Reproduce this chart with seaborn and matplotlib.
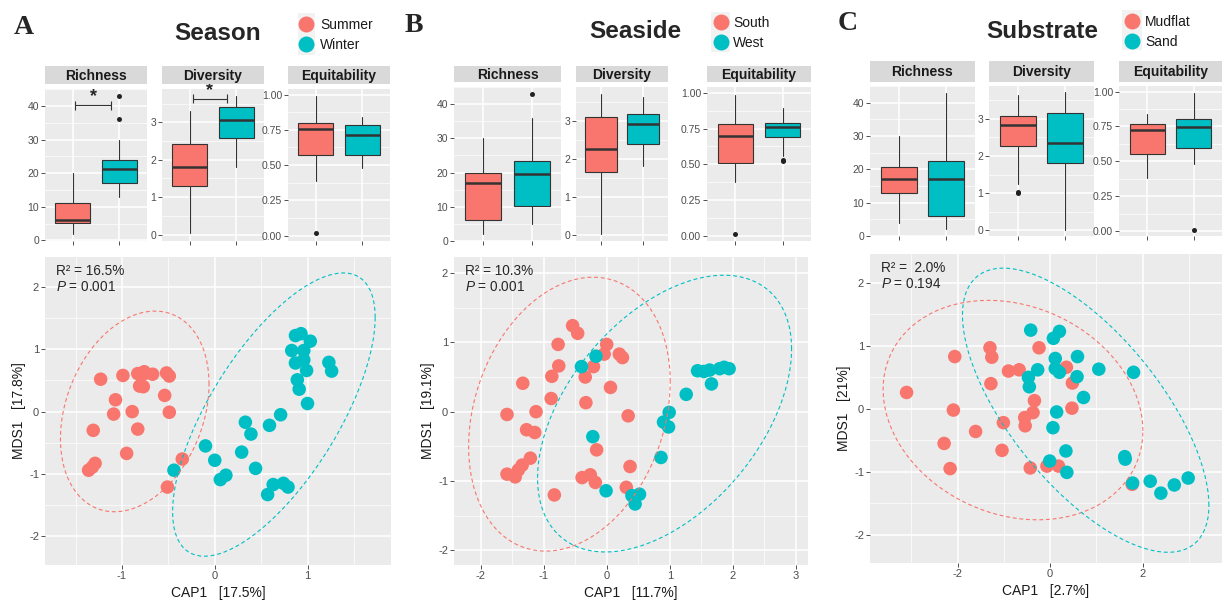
import numpy as np
import pandas as pd
import seaborn as sns
import matplotlib.pyplot as plt
from matplotlib.lines import Line2D
from matplotlib.patches import Rectangle
from matplotlib.ticker import MultipleLocator, AutoMinorLocator, FormatStrFormatter

RED = '#F8766D'
TEAL = '#00BFC4'

# box summaries: [lower whisker, Q1, median, Q3, upper whisker]
season_groups = ['Summer', 'Winter']
season_richness = [[2, 5.2, 6, 11.2, 20], [13, 17.2, 21.2, 23.9, 30]]
season_richness_out = [[], [36, 43]]
season_diversity = [[0.03, 1.30, 1.81, 2.41, 3.30], [1.81, 2.58, 3.06, 3.40, 3.71]]
season_diversity_out = [[], []]
season_equit = [[0.39, 0.574, 0.754, 0.797, 0.99], [0.48, 0.574, 0.714, 0.783, 0.844]]
season_equit_out = [[0.017], []]

seaside_groups = ['South', 'West']
seaside_richness = [[2, 6, 17, 20, 30], [5, 10.1, 19.6, 23.3, 36]]
seaside_richness_out = [[], [43]]
seaside_diversity = [[0.03, 1.65, 2.27, 3.11, 3.70], [1.82, 2.39, 2.93, 3.18, 3.63]]
seaside_diversity_out = [[], []]
seaside_equit = [[0.38, 0.509, 0.70, 0.782, 0.984], [0.56, 0.69, 0.76, 0.787, 0.89]]
seaside_equit_out = [[0.012], [0.52, 0.53]]

substrate_groups = ['Mudflat', 'Sand']
substrate_richness = [[4, 13, 17, 20.8, 30], [2, 6, 17, 22.4, 43]]
substrate_richness_out = [[], []]
substrate_diversity = [[1.24, 2.28, 2.85, 3.07, 3.64], [0.0, 1.82, 2.35, 3.17, 3.72]]
substrate_diversity_out = [[1.01, 1.04], []]
substrate_equit = [[0.38, 0.55, 0.725, 0.77, 0.84], [0.483, 0.593, 0.749, 0.80, 0.99]]
substrate_equit_out = [[], [0.005]]

# ordination scores
summer_cap = [-1.23, -0.99, -0.83, -0.76, -0.77, -0.67, -0.52, -0.49, -0.81, -0.77, -0.54, -1.07,
              -1.09, -0.89, -0.49, -1.31, -0.83, -0.95, -0.35, -1.29, -1.32, -1.36, -0.51]
summer_mds = [0.52, 0.58, 0.61, 0.64, 0.60, 0.60, 0.62, 0.57, 0.41, 0.40, 0.26, 0.19,
              -0.04, 0.00, -0.01, -0.30, -0.28, -0.67, -0.76, -0.83, -0.89, -0.94, -1.21]
winter_cap = [0.87, 0.93, 1.03, 0.83, 0.96, 0.87, 0.96, 0.99, 1.23, 1.26, 0.89, 0.91, 1.00, 0.71,
              0.33, 0.59, 0.39, -0.10, 0.00, 0.29, 0.44, 0.12, 0.06, -0.44, 0.63, 0.74, 0.79, 0.57]
winter_mds = [1.22, 1.25, 1.13, 0.98, 0.98, 0.78, 0.83, 0.66, 0.79, 0.65, 0.51, 0.36, 0.13, -0.05,
              -0.17, -0.22, -0.36, -0.55, -0.78, -0.65, -0.91, -1.02, -1.09, -0.94, -1.17, -1.15, -1.21, -1.33]

south_cap = [-1.58, -1.33, -1.12, -1.27, -1.14, -1.21, -1.34, -1.40, -1.45, -1.58, -0.83, -0.88, -0.87,
             -0.76, -0.77, -0.54, -0.46, -0.34, -0.33, -0.21, -0.04, 0.00, 0.06, 0.20, 0.25, 0.34,
             -0.16, 0.37, -0.39, -0.26, -0.18, 0.31]
south_mds = [-0.04, 0.41, 0.00, -0.26, -0.30, -0.67, -0.77, -0.84, -0.94, -0.90, -1.20, 0.19, 0.51,
             0.66, 0.97, 1.24, 1.13, 0.50, 0.13, 0.65, 0.83, 0.97, 0.35, 0.83, 0.78, -0.06,
             -0.55, -0.79, -0.95, -0.91, -1.02, -1.09]
west_cap = [-0.40, -0.17, -0.22, -0.01, 0.40, 0.52, 0.45, 0.86, 0.90, 0.99, 0.98, 1.26, 1.44,
            1.54, 1.63, 1.66, 1.79, 1.86, 1.94]
west_mds = [0.65, 0.80, -0.36, -1.14, -1.21, -1.19, -1.33, -0.66, -0.15, -0.01, -0.22, 0.25, 0.59,
            0.58, 0.60, 0.40, 0.62, 0.64, 0.62]

mudflat_cap = [-3.10, -2.06, -2.09, -2.29, -2.16, -1.61, -1.30, -1.26, -1.28, -1.01, -1.04, -0.90, -0.67,
               -0.24, -0.34, -0.37, -0.55, -0.54, -0.43, -0.07, 0.18, 0.35, 0.48, 0.47, 1.77]
mudflat_mds = [0.26, 0.83, -0.02, -0.55, -0.95, -0.36, 0.97, 0.82, 0.40, -0.22, -0.66, 0.60, 0.62,
               0.97, 0.13, -0.06, -0.14, -0.27, -0.94, -0.91, -0.91, 0.66, 0.41, 0.01, -1.20]
sand_cap = [-0.42, 0.07, 0.20, 0.11, 0.11, 0.20, 0.59, 1.05, 1.80, -0.27, -0.47, -0.45, 0.58, 0.72,
            0.14, 0.06, 0.34, -0.01, 0.36, 1.61, 1.62, 1.78, 2.16, 2.39, 2.68, 2.98]
sand_mds = [1.25, 1.12, 1.23, 0.80, 0.64, 0.58, 0.83, 0.63, 0.58, 0.62, 0.50, 0.35, 0.51, 0.18,
            -0.05, -0.30, -0.67, -0.83, -1.01, -0.76, -0.80, -1.18, -1.15, -1.34, -1.21, -1.10]

sns.set_theme(style='darkgrid', rc={
    'axes.facecolor': '#EBEBEB', 'grid.color': 'white', 'axes.edgecolor': '#EBEBEB',
    'figure.facecolor': 'white'})
plt.rcParams['font.family'] = ['Liberation Sans', 'DejaVu Sans']
plt.rcParams['mathtext.fontset'] = 'custom'
plt.rcParams['mathtext.rm'] = 'Liberation Sans'
plt.rcParams['mathtext.it'] = 'Liberation Sans:italic'

W, H = 1226, 602
fig = plt.figure(figsize=(W / 100, H / 100), dpi=100)


def frac(l, t, r, b):
    return [l / W, 1 - b / H, (r - l) / W, (b - t) / H]


def norm_ellipse(x, y, level=0.95, segments=101):
    # normal-theory confidence ellipse, as stat_ellipse(type = "norm")
    X = np.column_stack([x, y])
    n = len(X)
    loc = X.mean(0)
    cov = np.cov(X, rowvar=False)
    dfd = n - 1
    qf = dfd / 2 * ((1 - level) ** (-2 / dfd) - 1)
    radius = np.sqrt(2 * qf)
    t = np.linspace(0, 2 * np.pi, segments)
    circle = np.column_stack([np.cos(t), np.sin(t)])
    R = np.linalg.cholesky(cov).T
    return loc + radius * circle @ R


def style_ax(ax, size):
    for s in ax.spines.values():
        s.set_visible(False)
    ax.tick_params(which='major', length=2.75, width=0.6, color='#333333', labelcolor='#4D4D4D',
                   labelsize=size, pad=1.5, bottom=True, left=True)
    ax.tick_params(which='minor', length=0)
    ax.grid(which='major', color='white', lw=1.1)
    ax.grid(which='minor', color='white', lw=0.5)
    ax.set_axisbelow(True)


def draw_box(ax, summ, outs, labels, ylim, step, fmt):
    stats = [dict(whislo=s[0], q1=s[1], med=s[2], q3=s[3], whishi=s[4], fliers=o, label=l)
             for s, o, l in zip(summ, outs, labels)]
    bp = ax.bxp(stats, positions=[1, 2], widths=0.75, patch_artist=True, showcaps=False,
                boxprops=dict(edgecolor='#333333', lw=0.8),
                whiskerprops=dict(color='#333333', lw=0.8),
                medianprops=dict(color='#333333', lw=1.8),
                flierprops=dict(marker='o', markerfacecolor='#222222', markeredgecolor='none',
                                markersize=3.6))
    for patch, c in zip(bp['boxes'], [RED, TEAL]):
        patch.set_facecolor(c)
    ax.set_xlim(0.4, 2.6)
    ax.set_ylim(*ylim)
    ax.set_xticks([1, 2])
    ax.set_xticklabels(['', ''])
    ax.yaxis.set_major_locator(MultipleLocator(step))
    ax.yaxis.set_minor_locator(AutoMinorLocator(2))
    ax.yaxis.set_major_formatter(FormatStrFormatter(fmt))
    ax.grid(axis='x', which='minor', visible=False)
    style_ax(ax, 7.5)


def sig_bar(ax, x0, x1, y, tick, ystar):
    ax.plot([x0, x1], [y, y], color='#333333', lw=0.8)
    ax.vlines([x0, x1], y - tick, y + tick, color='#333333', lw=0.8)
    ax.text((x0 + x1) / 2, ystar, '*', ha='center', va='center', fontsize=13, fontweight='bold')


def panel(letter, letter_xy, title, title_xy, groups, legend_cfg, box_x, box_y, strip_y,
          boxes, scatter_box, xs, ys, lims, xstep, xlabel, ylabel, r2, pval):
    fig.text(letter_xy[0] / W, 1 - letter_xy[1] / H, letter, family='Liberation Serif',
             fontweight='bold', fontsize=20, ha='center', va='center')
    fig.text(title_xy[0] / W, 1 - title_xy[1] / H, title, fontweight='bold', fontsize=17.5,
             ha='center', va='center')
    kx, ky0, ky1, tx, bg = legend_cfg
    fig.add_artist(Rectangle((bg[0] / W, 1 - bg[3] / H), (bg[2] - bg[0]) / W, (bg[3] - bg[1]) / H,
                             transform=fig.transFigure, facecolor='#F2F2F2', edgecolor='none'))
    for c, g, ky in zip([RED, TEAL], groups, [ky0, ky1]):
        fig.add_artist(Line2D([kx / W], [1 - ky / H], marker='o', ls='', color=c, markersize=11.5,
                              markeredgewidth=0, transform=fig.transFigure))
        fig.text(tx / W, 1 - (ky + 1) / H, g, fontsize=10, va='center', ha='left', color='#1A1A1A')

    axes = []
    for (l, r), (name, summ, outs, ylim, step, fmt) in zip(box_x, boxes):
        ax = fig.add_axes(frac(l, box_y[0], r, box_y[1]))
        draw_box(ax, summ, outs, groups, ylim, step, fmt)
        sax = fig.add_axes(frac(l, strip_y[0], r, strip_y[1]))
        sax.set_facecolor('#D9D9D9')
        sax.set_xticks([])
        sax.set_yticks([])
        sax.grid(False)
        for s in sax.spines.values():
            s.set_visible(False)
        sax.text(0.5, 0.47, name, ha='center', va='center', fontsize=10, fontweight='bold',
                 color='#1A1A1A', transform=sax.transAxes)
        axes.append(ax)

    ax = fig.add_axes(frac(*scatter_box))
    df = pd.DataFrame({'CAP1': list(xs[0]) + list(xs[1]),
                       'MDS1': list(ys[0]) + list(ys[1]),
                       'group': [groups[0]] * len(xs[0]) + [groups[1]] * len(xs[1])})
    sns.scatterplot(data=df, x='CAP1', y='MDS1', hue='group', hue_order=groups,
                    palette=[RED, TEAL], s=95, linewidth=0, alpha=1, legend=False, ax=ax)
    for gx, gy, c in zip(xs, ys, [RED, TEAL]):
        e = norm_ellipse(np.array(gx), np.array(gy))
        ax.plot(e[:, 0], e[:, 1], color=c, lw=0.8, ls=(0, (3.5, 2.5)))
    ax.set_xlim(*lims[0])
    ax.set_ylim(*lims[1])
    ax.xaxis.set_major_locator(MultipleLocator(xstep))
    ax.xaxis.set_minor_locator(AutoMinorLocator(2))
    ax.yaxis.set_major_locator(MultipleLocator(1))
    ax.yaxis.set_minor_locator(AutoMinorLocator(2))
    ax.xaxis.set_major_formatter(FormatStrFormatter('%d'))
    ax.yaxis.set_major_formatter(FormatStrFormatter('%d'))
    style_ax(ax, 8)
    ax.set_xlabel(xlabel, fontsize=10, labelpad=3.5, color='#1A1A1A')
    ax.set_ylabel(ylabel, fontsize=10, labelpad=2.5, color='#1A1A1A')
    ax.text(0.032, 0.956, r2, transform=ax.transAxes, fontsize=9.8, va='center', ha='left')
    ax.text(0.032, 0.902, r'$\mathit{P}$ = ' + pval, transform=ax.transAxes, fontsize=9.8,
            va='center', ha='left')
    return axes


rich_lim, div_lim, eq_lim = (-0.05, 45.05), (-0.16, 3.89), (-0.035, 1.04)

axA = panel('A', (24, 27), 'Season', (218, 33), season_groups,
            (306, 24, 44, 320, (298, 13, 315, 55)),
            [(45, 147), (162, 264), (288, 390)], (89, 240.5), (66, 84),
            [('Richness', season_richness, season_richness_out, rich_lim, 10, '%d'),
             ('Diversity', season_diversity, season_diversity_out, div_lim, 1, '%d'),
             ('Equitability', season_equit, season_equit_out, eq_lim, 0.25, '%.2f')],
            (45, 257, 391, 565), (summer_cap, winter_cap), (summer_mds, winter_mds),
            ((-1.83, 1.90), (-2.46, 2.48)), 1, 'CAP1   [17.5%]', 'MDS1   [17.8%]',
            'R² = 16.5%', '0.001')
sig_bar(axA[0], 1.05, 1.83, 40.2, 1.3, 42.8)
sig_bar(axA[1], 1.06, 1.81, 3.63, 0.12, 3.86)

panel('B', (414, 25), 'Seaside', (635, 32), seaside_groups,
      (720.5, 22, 42, 733, (711, 12, 730, 52)),
      [(454, 561), (576, 668), (707, 811)], (87, 241), (66, 82.3),
      [('Richness', seaside_richness, seaside_richness_out, rich_lim, 10, '%d'),
       ('Diversity', seaside_diversity, seaside_diversity_out, div_lim, 1, '%d'),
       ('Equitability', seaside_equit, seaside_equit_out, eq_lim, 0.25, '%.2f')],
      (454, 257, 808, 565), (south_cap, west_cap), (south_mds, west_mds),
      ((-2.42, 3.19), (-2.21, 2.23)), 1, 'CAP1   [11.7%]', 'MDS1   [19.1%]',
      'R² = 10.3%', '0.001')

panel('C', (848, 24), 'Substrate', (1042, 32), substrate_groups,
      (1131.5, 20.5, 40.5, 1145, (1122, 10, 1142, 50)),
      [(870, 975), (989, 1094), (1119, 1222)], (86, 236), (61, 82),
      [('Richness', substrate_richness, substrate_richness_out, rich_lim, 10, '%d'),
       ('Diversity', substrate_diversity, substrate_diversity_out, div_lim, 1, '%d'),
       ('Equitability', substrate_equit, substrate_equit_out, eq_lim, 0.25, '%.2f')],
      (870, 254, 1222, 563), (mudflat_cap, sand_cap), (mudflat_mds, sand_mds),
      ((-3.89, 3.71), (-2.45, 2.46)), 2, 'CAP1   [2.7%]', 'MDS1   [21%]',
      'R² =  2.0%', '0.194')

fig.savefig('out.png', dpi=100)
